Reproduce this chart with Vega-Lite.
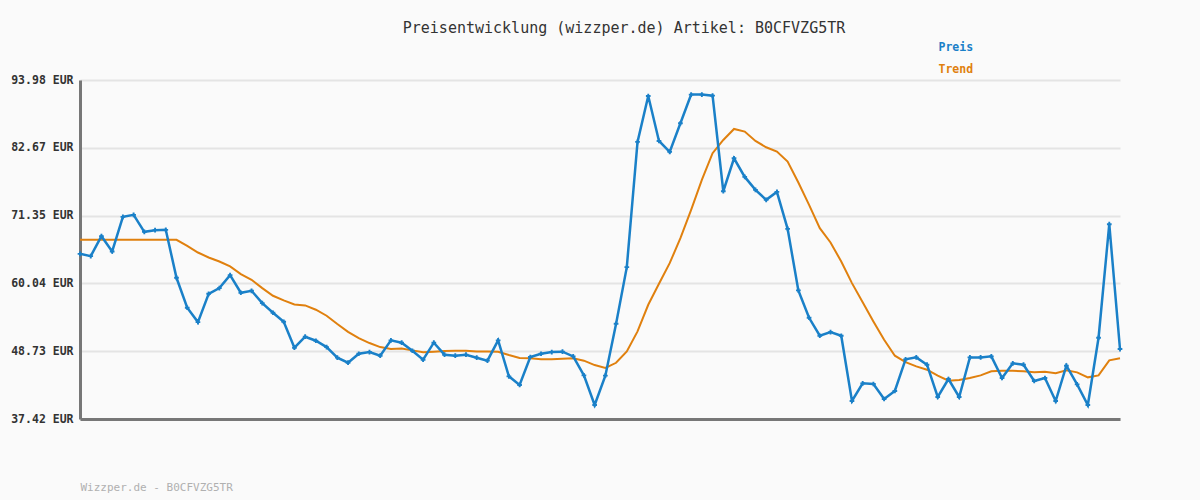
{
  "$schema": "https://vega.github.io/schema/vega-lite/v6.json",
  "width": 1040,
  "height": 339,
  "autosize": "none",
  "padding": {"left": 80, "top": 80, "right": 80, "bottom": 81},
  "background": "#fafafa",
  "title": {"text": "Preisentwicklung (wizzper.de) Artikel: B0CFVZG5TR", "anchor": "middle", "dx": 24, "offset": 6, "font": "DejaVu Sans Mono", "fontSize": 15, "fontWeight": "normal", "color": "#333333"},
  "config": {"view": {"stroke": null}},
  "data": {"values": [
    {"i":1,"Preis":64.98,"Trend":67.31},{"i":2,"Preis":64.59,"Trend":67.31},{"i":3,"Preis":67.92,"Trend":67.31},{"i":4,"Preis":65.37,"Trend":67.31},{"i":5,"Preis":71.15,"Trend":67.31},{"i":6,"Preis":71.48,"Trend":67.31},{"i":7,"Preis":68.65,"Trend":67.31},{"i":8,"Preis":68.93,"Trend":67.31},{"i":9,"Preis":68.98,"Trend":67.31},{"i":10,"Preis":60.98,"Trend":67.31},
    {"i":11,"Preis":55.98,"Trend":66.31},{"i":12,"Preis":53.59,"Trend":65.2},{"i":13,"Preis":58.31,"Trend":64.37},{"i":14,"Preis":59.26,"Trend":63.7},{"i":15,"Preis":61.42,"Trend":62.87},{"i":16,"Preis":58.48,"Trend":61.59},{"i":17,"Preis":58.81,"Trend":60.65},{"i":18,"Preis":56.76,"Trend":59.26},{"i":19,"Preis":55.15,"Trend":57.98},{"i":20,"Preis":53.65,"Trend":57.2},
    {"i":21,"Preis":49.31,"Trend":56.54},{"i":22,"Preis":51.15,"Trend":56.37},{"i":23,"Preis":50.48,"Trend":55.65},{"i":24,"Preis":49.42,"Trend":54.65},{"i":25,"Preis":47.65,"Trend":53.26},{"i":26,"Preis":46.81,"Trend":51.95},{"i":27,"Preis":48.31,"Trend":50.92},{"i":28,"Preis":48.59,"Trend":50.09},{"i":29,"Preis":47.98,"Trend":49.42},{"i":30,"Preis":50.54,"Trend":49.09},
    {"i":31,"Preis":50.15,"Trend":49.2},{"i":32,"Preis":48.81,"Trend":48.87},{"i":33,"Preis":47.31,"Trend":48.54},{"i":34,"Preis":50.15,"Trend":48.65},{"i":35,"Preis":48.15,"Trend":48.76},{"i":36,"Preis":47.98,"Trend":48.81},{"i":37,"Preis":48.15,"Trend":48.81},{"i":38,"Preis":47.65,"Trend":48.7},{"i":39,"Preis":47.15,"Trend":48.7},{"i":40,"Preis":50.54,"Trend":48.65},
    {"i":41,"Preis":44.54,"Trend":48.09},{"i":42,"Preis":43.09,"Trend":47.59},{"i":43,"Preis":47.76,"Trend":47.54},{"i":44,"Preis":48.31,"Trend":47.37},{"i":45,"Preis":48.59,"Trend":47.37},{"i":46,"Preis":48.65,"Trend":47.48},{"i":47,"Preis":47.87,"Trend":47.54},{"i":48,"Preis":44.7,"Trend":47.15},{"i":49,"Preis":39.76,"Trend":46.42},{"i":50,"Preis":44.65,"Trend":45.95},
    {"i":51,"Preis":53.31,"Trend":46.8},{"i":52,"Preis":62.76,"Trend":48.7},{"i":53,"Preis":83.65,"Trend":52.04},{"i":54,"Preis":91.31,"Trend":56.48},{"i":55,"Preis":83.81,"Trend":59.98},{"i":56,"Preis":81.98,"Trend":63.42},{"i":57,"Preis":86.76,"Trend":67.59},{"i":58,"Preis":91.54,"Trend":72.31},{"i":59,"Preis":91.54,"Trend":77.31},{"i":60,"Preis":91.37,"Trend":81.76},
    {"i":61,"Preis":75.42,"Trend":83.98},{"i":62,"Preis":80.92,"Trend":85.81},{"i":63,"Preis":77.81,"Trend":85.37},{"i":64,"Preis":75.65,"Trend":83.81},{"i":65,"Preis":73.98,"Trend":82.76},{"i":66,"Preis":75.31,"Trend":82.04},{"i":67,"Preis":69.15,"Trend":80.37},{"i":68,"Preis":58.87,"Trend":76.87},{"i":69,"Preis":54.31,"Trend":73.15},{"i":70,"Preis":51.31,"Trend":69.26},
    {"i":71,"Preis":51.92,"Trend":66.87},{"i":72,"Preis":51.31,"Trend":63.7},{"i":73,"Preis":40.42,"Trend":60.09},{"i":74,"Preis":43.37,"Trend":56.9},{"i":75,"Preis":43.26,"Trend":53.7},{"i":76,"Preis":40.76,"Trend":50.65},{"i":77,"Preis":42.09,"Trend":47.98},{"i":78,"Preis":47.37,"Trend":46.92},{"i":79,"Preis":47.7,"Trend":46.2},{"i":80,"Preis":46.48,"Trend":45.65},
    {"i":81,"Preis":41.09,"Trend":44.65},{"i":82,"Preis":44.09,"Trend":43.81},{"i":83,"Preis":41.09,"Trend":43.92},{"i":84,"Preis":47.7,"Trend":44.26},{"i":85,"Preis":47.7,"Trend":44.7},{"i":86,"Preis":47.87,"Trend":45.37},{"i":87,"Preis":44.26,"Trend":45.48},{"i":88,"Preis":46.7,"Trend":45.48},{"i":89,"Preis":46.48,"Trend":45.37},{"i":90,"Preis":43.76,"Trend":45.2},
    {"i":91,"Preis":44.26,"Trend":45.31},{"i":92,"Preis":40.42,"Trend":45.04},{"i":93,"Preis":46.31,"Trend":45.54},{"i":94,"Preis":43.2,"Trend":45.2},{"i":95,"Preis":39.76,"Trend":44.37},{"i":96,"Preis":50.98,"Trend":44.7},{"i":97,"Preis":69.92,"Trend":47.2},{"i":98,"Preis":49.09,"Trend":47.54}
  ]},
  "transform": [{"fold": ["Preis", "Trend"], "as": ["Serie", "Wert"]}],
  "encoding": {
    "x": {"field": "i", "type": "quantitative", "scale": {"domain": [1, 98], "nice": false, "zero": false},
      "axis": {"title": "Wizzper.de - B0CFVZG5TR", "titleAnchor": "start", "titleAlign": "left", "titleFont": "DejaVu Sans Mono", "titleFontSize": 11, "titleFontWeight": "normal", "titleColor": "#b0b0b0", "titlePadding": 62, "labels": false, "ticks": false, "grid": false, "domainColor": "#777777", "domainWidth": 3}},
    "y": {"field": "Wert", "type": "quantitative", "scale": {"domain": [37.42, 93.98], "nice": false, "zero": false},
      "axis": {"title": null, "values": [37.42, 48.73, 60.04, 71.35, 82.67, 93.98], "labelExpr": "format(datum.value, '.2f') + ' EUR'", "labelFont": "DejaVu Sans Mono", "labelFontSize": 11.5, "labelFontWeight": "bold", "labelColor": "#333333", "labelPadding": 7, "ticks": false, "grid": true, "gridColor": "#e4e4e4", "gridWidth": 2, "domainColor": "#777777", "domainWidth": 3}},
    "color": {"field": "Serie", "type": "nominal", "scale": {"domain": ["Preis", "Trend"], "range": ["#1a80c8", "#e0800e"]},
      "legend": {"title": null, "orient": "none", "legendX": 847, "legendY": -38, "symbolSize": 0, "symbolStrokeWidth": 0, "symbolOpacity": 0, "labelOffset": 0, "labelFont": "DejaVu Sans Mono", "labelFontSize": 11.5, "labelFontWeight": "bold", "rowPadding": 9, "encode": {"labels": {"update": {"fill": {"scale": "color", "field": "value"}}}}}}
  },
  "layer": [
    {"mark": {"type": "line", "strokeWidth": 2, "interpolate": "linear"}, "transform": [{"filter": "datum.Serie == 'Trend'"}]},
    {"mark": {"type": "line", "strokeWidth": 2.5}, "transform": [{"filter": "datum.Serie == 'Preis'"}]},
    {"mark": {"type": "point", "shape": "cross", "filled": true, "size": 22, "opacity": 1}, "transform": [{"filter": "datum.Serie == 'Preis'"}]}
  ]
}
